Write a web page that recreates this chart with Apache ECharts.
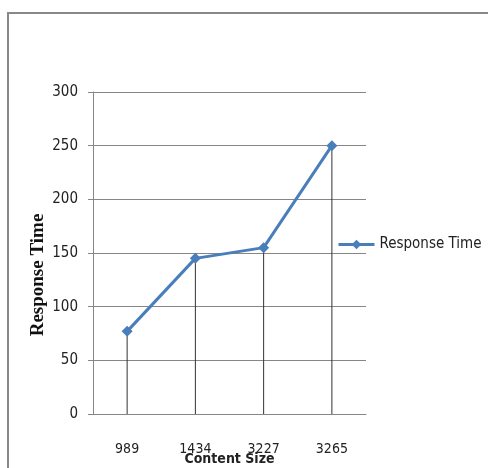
<!DOCTYPE html>
<html>
<head>
<meta charset="utf-8">
<script src="https://cdn.jsdelivr.net/npm/echarts@6/dist/echarts.min.js"></script>
<style>
  html, body { margin: 0; padding: 0; background: #fff; }
  #main { width: 488px; height: 468px; }
</style>
</head>
<body>
<div id="main"></div>
<script>
// chart data
var categories = ['989', '1434', '3227', '3265'];
var responseTime = [77, 145, 155, 250];
var yTicks = [0, 50, 100, 150, 200, 250, 300];

var narrow = '"Liberation Sans Narrow", "DejaVu Sans Condensed", "Liberation Sans", sans-serif';

var chart = echarts.init(document.getElementById('main'));

var option = {
  animation: false,
  graphic: [
    {
      type: 'rect',
      shape: { x: 8, y: 13, width: 500, height: 480 },
      style: { fill: 'none', stroke: '#888', lineWidth: 2 },
      silent: true
    }
  ],
  grid: { left: 93, top: 92, width: 273, height: 322, outerBoundsMode: 'none', containLabel: false },
  legend: {
    data: ['Response Time'],
    left: 332,
    top: 232,
    itemWidth: 36,
    itemHeight: 12,
    itemGap: 4,
    lineStyle: { width: 3 },
    textStyle: { fontFamily: narrow, fontSize: 15, color: '#222' }
  },
  xAxis: {
    type: 'category',
    data: categories,
    boundaryGap: true,
    name: 'Content Size',
    nameLocation: 'middle',
    nameGap: 38,
    nameMoveOverlap: false,
    nameTextStyle: { fontFamily: narrow, fontSize: 14, fontWeight: 'bold', color: '#222' },
    axisLine: { lineStyle: { color: '#868686', width: 1 } },
    axisTick: { show: false },
    axisLabel: { margin: 28, fontFamily: narrow, fontSize: 14, color: '#222' }
  },
  yAxis: {
    type: 'value',
    min: yTicks[0],
    max: yTicks[yTicks.length - 1],
    interval: 50,
    name: 'Response Time',
    nameLocation: 'middle',
    nameGap: 45,
    nameMoveOverlap: false,
    nameTextStyle: {
      fontFamily: '"Liberation Serif", serif',
      fontSize: 19,
      fontWeight: 'bold',
      color: '#111',
      padding: [0, 44, 0, 0]
    },
    axisLine: { show: true, lineStyle: { color: '#868686', width: 1 } },
    axisTick: { show: true, length: 5, lineStyle: { color: '#868686' } },
    axisLabel: { margin: 15, fontFamily: narrow, fontSize: 15, color: '#222' },
    splitLine: { lineStyle: { color: '#868686', width: 1 } }
  },
  series: [
    {
      name: 'drop',
      type: 'bar',
      data: responseTime,
      barWidth: 1,
      itemStyle: { color: '#333' },
      silent: true,
      z: 1
    },
    {
      name: 'Response Time',
      type: 'line',
      data: responseTime,
      symbol: 'diamond',
      symbolSize: 11,
      lineStyle: { color: '#4a7ebb', width: 3 },
      itemStyle: { color: '#4a7ebb' },
      z: 3
    }
  ]
};

chart.setOption(option);
</script>
</body>
</html>
